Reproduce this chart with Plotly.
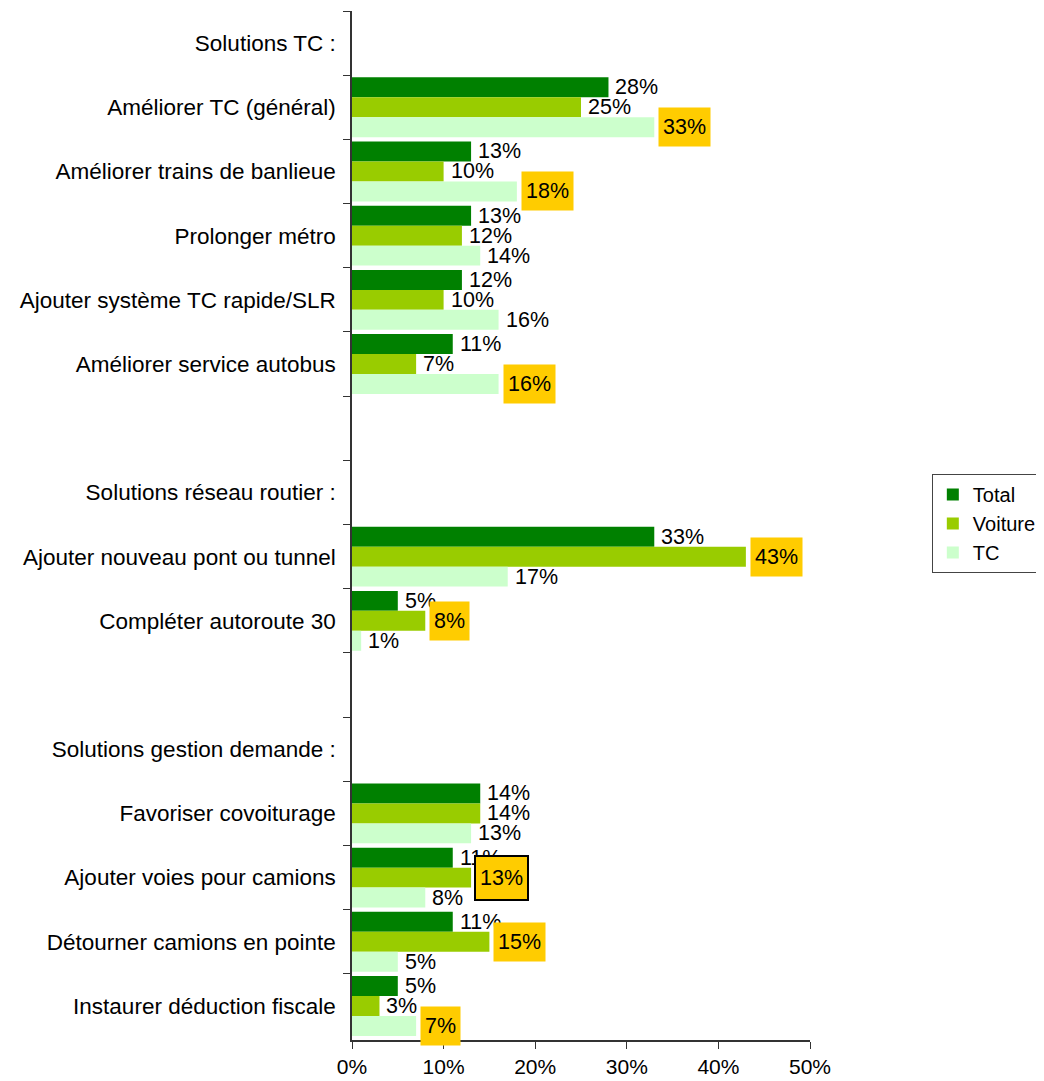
import plotly.graph_objects as go

categories = [
    "Solutions TC :",
    "Améliorer TC (général)",
    "Améliorer trains de banlieue",
    "Prolonger métro",
    "Ajouter système TC rapide/SLR",
    "Améliorer service autobus",
    " ",
    "Solutions réseau routier :",
    "Ajouter nouveau pont ou tunnel",
    "Compléter autoroute 30",
    "  ",
    "Solutions gestion demande :",
    "Favoriser covoiturage",
    "Ajouter voies pour camions",
    "Détourner camions en pointe",
    "Instaurer déduction fiscale",
]
total =   [None, 28, 13, 13, 12, 11, None, None, 33, 5, None, None, 14, 11, 11, 5]
voiture = [None, 25, 10, 12, 10, 7, None, None, 43, 8, None, None, 14, 13, 15, 3]
tc =      [None, 33, 18, 14, 16, 16, None, None, 17, 1, None, None, 13, 8, 5, 7]
series_names = ["Total", "Voiture", "TC"]
x_ticks = [0, 10, 20, 30, 40, 50]
x_tick_labels = ["0%", "10%", "20%", "30%", "40%", "50%"]

# highlighted labels: (category, series) -> style
highlighted = {
    ("Améliorer TC (général)", "TC"): "fill",
    ("Améliorer trains de banlieue", "TC"): "fill",
    ("Améliorer service autobus", "TC"): "fill",
    ("Ajouter nouveau pont ou tunnel", "Voiture"): "fill",
    ("Compléter autoroute 30", "Voiture"): "fill",
    ("Ajouter voies pour camions", "Voiture"): "framed",
    ("Détourner camions en pointe", "Voiture"): "fill",
    ("Instaurer déduction fiscale", "TC"): "fill",
}

colors = ["#008000", "#99CC00", "#CCFFCC"]
FONT = "Liberation Sans, Arial, sans-serif"

fig = go.Figure()
all_series = [total, voiture, tc]
for name, vals, col in zip(series_names, all_series, colors):
    fig.add_trace(go.Bar(
        y=categories, x=vals, name=name, orientation="h",
        marker=dict(color=col, line=dict(width=0)),
    ))

shifts = {"Total": 20, "Voiture": 0, "TC": -20}
annotations = []
for name, vals in zip(series_names, all_series):
    for cat, v in zip(categories, vals):
        if v is None:
            continue
        style = highlighted.get((cat, name))
        a = dict(x=v, y=cat, xref="x", yref="y", text=f"{v}%", showarrow=False,
                 xanchor="left", yanchor="middle", yshift=shifts[name],
                 font=dict(family=FONT, size=21.5, color="black"))
        if style is None:
            a.update(xshift=5)
        else:
            a.update(xshift=4, bgcolor="#FFCC00", borderpad=4, height=30)
            if style == "framed":
                a.update(bordercolor="black", borderwidth=2, xshift=3, height=34)
        annotations.append(a)

# the page adds an 8px body margin, so the figure is 8px smaller
fig.update_layout(
    width=1036, height=1073,
    margin=dict(l=344, r=234, t=3, b=41, autoexpand=False),
    paper_bgcolor="white", plot_bgcolor="white",
    barmode="group", bargap=0.067, bargroupgap=0,
    font=dict(family=FONT, size=22, color="black"),
    showlegend=True,
    legend=dict(x=1.266, y=0.55, xanchor="left", yanchor="top",
                bordercolor="#444", borderwidth=1, bgcolor="white",
                itemwidth=30,
                font=dict(family=FONT, size=20), tracegroupgap=0),
    annotations=annotations,
)
fig.update_yaxes(
    type="category", categoryorder="array", categoryarray=categories,
    autorange="reversed", tickson="boundaries", ticks="outside", ticklen=7,
    tickcolor="#333", showline=True, linecolor="#333", linewidth=1.5,
    showgrid=False, zeroline=False, ticklabelstandoff=10,
    tickfont=dict(family=FONT, size=22.5, color="black"),
)
fig.update_xaxes(
    range=[0, 50], tickvals=x_ticks, ticktext=x_tick_labels,
    ticks="outside", ticklen=7, tickcolor="#333", showline=True,
    linecolor="#333", linewidth=1.5, showgrid=False, zeroline=False,
    tickfont=dict(family=FONT, size=21, color="black"),
)
fig.write_html("out.html")
